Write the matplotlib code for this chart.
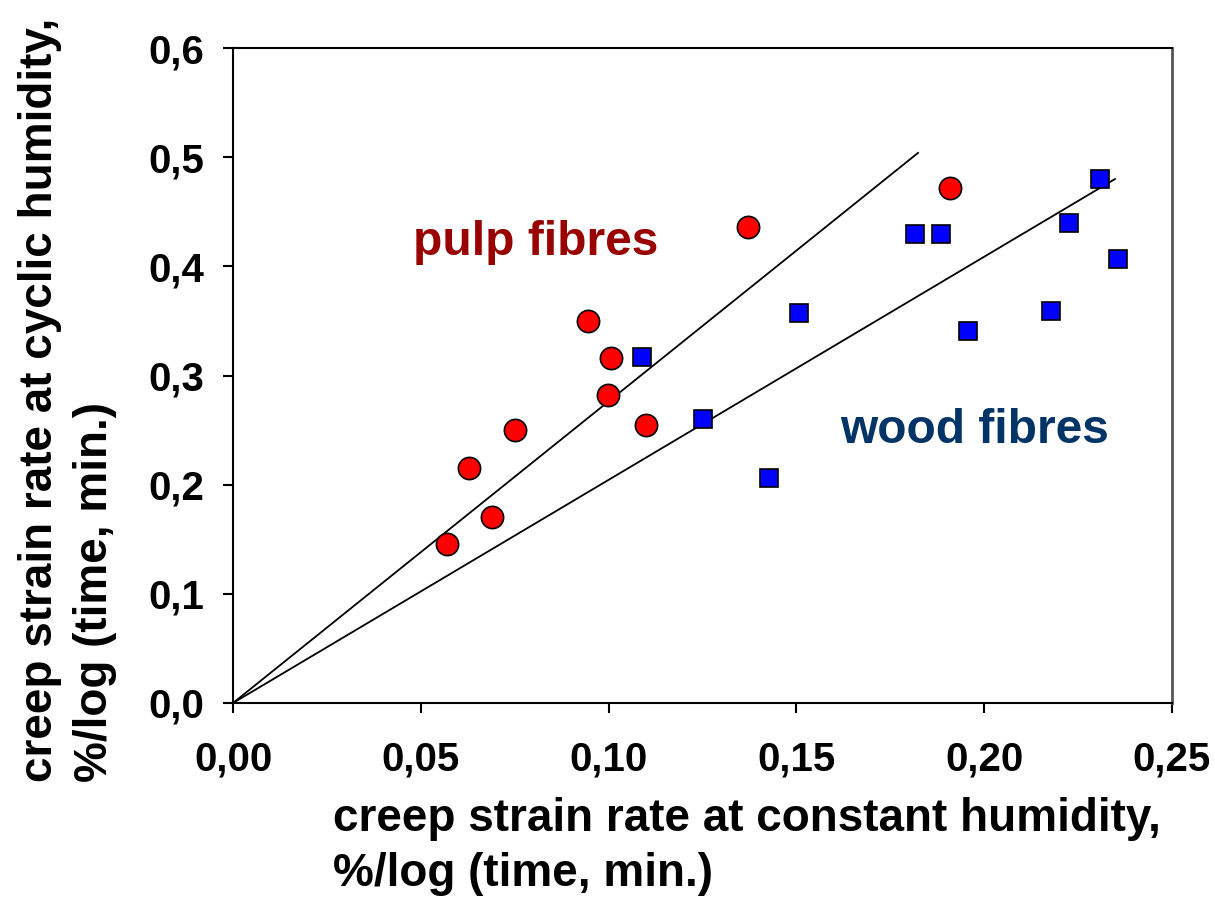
import matplotlib
matplotlib.use("Agg")
from matplotlib import pyplot as plt
import numpy as np

plt.rcParams['font.family'] = ['Liberation Sans', 'DejaVu Sans']
plt.rcParams['font.weight'] = 'bold'

# pulp fibres (red circles)
pulp_x = [0.057, 0.0628, 0.069, 0.075, 0.0945, 0.1006, 0.0998, 0.110, 0.137, 0.191]
pulp_y = [0.1456, 0.215, 0.170, 0.250, 0.350, 0.316, 0.282, 0.255, 0.436, 0.472]

# wood fibres (blue squares)
wood_x = [0.109, 0.125, 0.1427, 0.1507, 0.1816, 0.1885, 0.1957, 0.2178, 0.2226, 0.2308, 0.2356]
wood_y = [0.317, 0.260, 0.206, 0.357, 0.430, 0.430, 0.341, 0.359, 0.440, 0.480, 0.407]

# trend lines through origin: slope, end x
line_slopes = [2.763, 2.044]
line_xend = [0.1824, 0.2348]

xticks = [0.00, 0.05, 0.10, 0.15, 0.20, 0.25]
yticks = [0.0, 0.1, 0.2, 0.3, 0.4, 0.5, 0.6]

fig = plt.figure(figsize=(12.15, 8.98), dpi=100)
ax = fig.add_axes([233/1215, 1 - 703/898, (1172-233)/1215, (703-48)/898])

for s, xe in zip(line_slopes, line_xend):
    xs = np.array([0.0, xe])
    ax.plot(xs, s * xs, color='black', lw=1.3, zorder=2)

ax.plot(pulp_x, pulp_y, 'o', ms=16, mfc='#ff0000', mec='black', mew=1.2, zorder=3)
ax.plot(wood_x, wood_y, 's', ms=12.5, mfc='#0000ff', mec='black', mew=1.2, zorder=3)

ax.set_xlim(0, 0.25)
ax.set_ylim(0, 0.6)
ax.set_xticks(xticks)
ax.set_yticks(yticks)
ax.set_xticklabels([f"{v:.2f}".replace('.', ',') for v in xticks])
ax.set_yticklabels([f"{v:.1f}".replace('.', ',') for v in yticks])
ax.tick_params(direction='out', length=7, width=1.5, labelsize=29)
ax.tick_params(axis='y', pad=14)
ax.tick_params(axis='x', pad=20)
for sp in ['left', 'bottom', 'top']:
    ax.spines[sp].set_linewidth(1.5)
ax.spines['right'].set_linewidth(2)
ax.spines['right'].set_color('#555555')

ax.text(0.0479, 0.422, 'pulp fibres', color='#990000', fontsize=34.5, fontweight='bold', va='center')
ax.text(0.1616, 0.250, 'wood fibres', color='#003366', fontsize=34.5, fontweight='bold', va='center')

fig.text(333/1215, 1 - 797/898, 'creep strain rate at constant humidity,\n%/log (time, min.)',
         ha='left', va='top', fontsize=33, fontweight='bold', multialignment='left', linespacing=1.33)
fig.text(18/1215, 1 - 782/898, 'creep strain rate at cyclic humidity,\n%/log (time, min.)',
         ha='left', va='top', rotation=90, fontsize=33, fontweight='bold',
         multialignment='left', linespacing=1.33, rotation_mode='anchor')

plt.savefig('out.png', dpi=100)
